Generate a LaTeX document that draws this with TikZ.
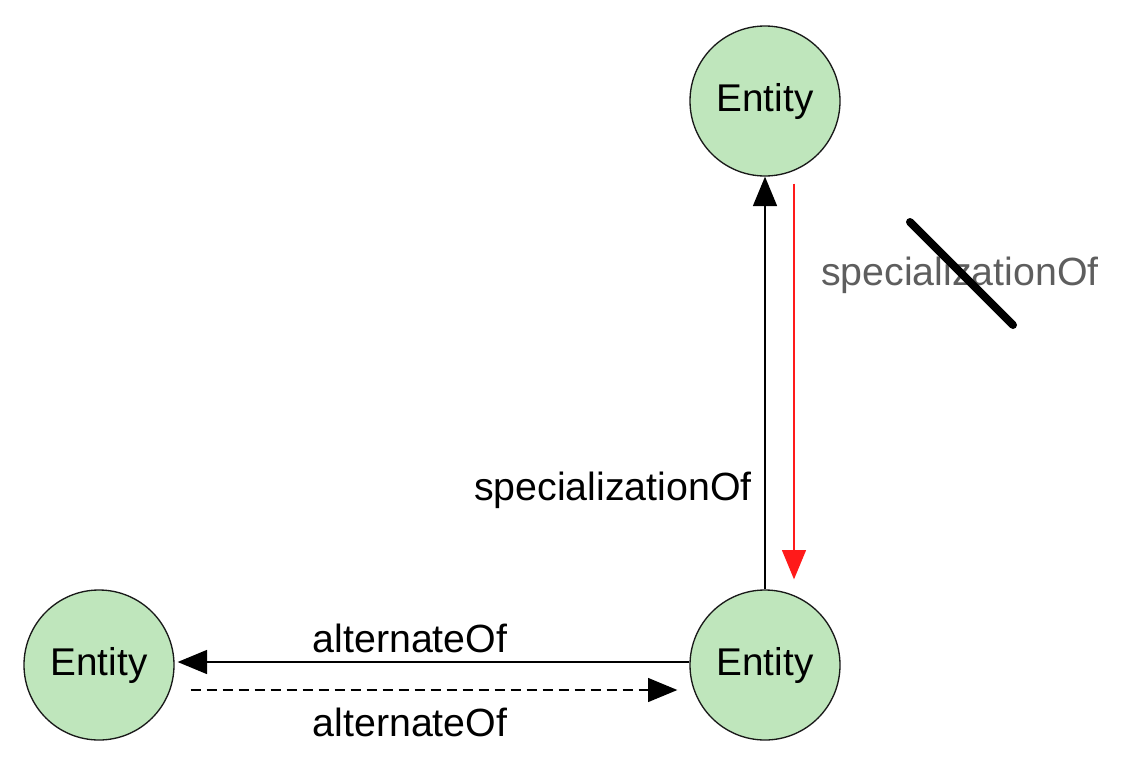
\documentclass[tikz,border=0pt]{standalone}
\usepackage{fontspec}
\setmainfont{Liberation Sans}
\usetikzlibrary{arrows.meta,calc}
\definecolor{entfill}{HTML}{BFE6BC}
\definecolor{redline}{HTML}{FF1A1A}
\definecolor{greytxt}{HTML}{5E5E5E}
\tikzset{
  entity/.style={circle, draw=black!90, line width=1pt, fill=entfill, minimum size=112.5pt, inner sep=0pt, font=\fontsize{29}{34}\selectfont},
  lbl/.style={font=\fontsize{29.5}{34}\selectfont, inner sep=0pt},
  conn/.style={line width=1pt, -{Triangle[length=22pt,width=18pt]}},
}
\begin{document}
\begin{tikzpicture}[x=0.75pt,y=-0.75pt]
\useasboundingbox (0,0) rectangle (1131,764);
\node[entity] (top) at (765,101) {\raisebox{-2pt}{Entity}};
\node[entity] (br) at (765,665) {\raisebox{-2pt}{Entity}};
\node[entity] (bl) at (99,665) {\raisebox{-2pt}{Entity}};
\draw[conn] (br.north) -- (top.south);
\node[lbl, anchor=east] (l1) at (752,490) {specializationOf};
\draw[conn, draw=redline, -{Triangle[length=22pt,width=18pt,fill=redline]}] ($(top.south)+(29,7)$) -- ($(br.north)+(29,-10)$);
\node[lbl, text=greytxt] (l2) at (960,275) {specializationOf};
\coordinate (s1) at (910,222);
\coordinate (s2) at (1013,325);
\draw[line width=6pt, line cap=round] (s1) -- (s2);
\draw[conn] ($(br.west)+(0,-3)$) -- ($(bl.east)+(3,-3)$);
\node[lbl] (l3) at (410,638) {alternateOf};
\draw[conn, dash pattern=on 7.5pt off 4.5pt] ($(bl.east)+(16,25)$) -- ($(br.west)+(-12,25)$);
\node[lbl] (l4) at (410,722) {alternateOf};
\end{tikzpicture}
\end{document}
